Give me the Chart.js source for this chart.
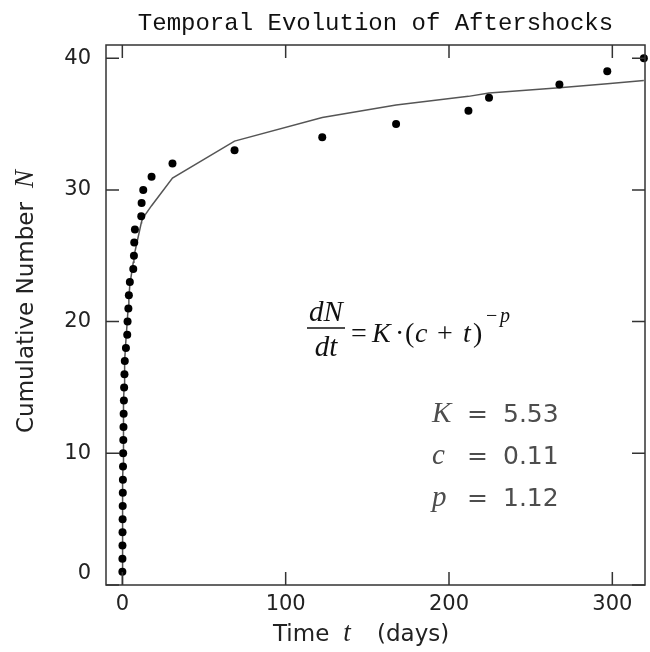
<!DOCTYPE html>
<html>
<head>
<meta charset="utf-8">
<script src="https://cdn.jsdelivr.net/npm/chart.js@4.4.1/dist/chart.umd.min.js"></script>
<style>
    html, body { margin: 0; padding: 0; background: #fff; }
    #wrap { width: 650px; height: 652px; position: relative; }
</style>
</head>
<body>
<div id="wrap"><canvas id="chart"></canvas></div>
<script>
// aftershock times (days) and cumulative count
const timeDays = [0.02, 0.05, 0.08, 0.12, 0.17, 0.22, 0.28, 0.35, 0.42, 0.5,
    0.6, 0.7, 0.8, 0.95, 1.1, 1.3, 1.5, 2.2, 3.0, 3.2,
    3.7, 4.0, 4.6, 6.7, 7.1, 7.3, 7.7, 11.6, 11.8, 12.8,
    17.9, 30.7, 68.7, 122.4, 167.6, 211.9, 224.5, 267.6, 296.9, 319.3];
const cumulativeN = [1, 2, 3, 4, 5, 6, 7, 8, 9, 10,
    11, 12, 13, 14, 15, 16, 17, 18, 19, 20,
    21, 22, 23, 24, 25, 26, 27, 28, 29, 30,
    31, 32, 33, 34, 35, 36, 37, 38, 39, 40];

// Omori fit curve
const fitTimes = [0, 0.02, 0.05, 0.08, 0.12, 0.17, 0.22, 0.28, 0.35, 0.42, 0.5,
    0.6, 0.7, 0.8, 0.95, 1.1, 1.3, 1.5, 2.2, 3.0, 3.2,
    3.7, 4.0, 4.6, 6.7, 7.1, 7.3, 7.7, 11.6, 11.8, 12.8,
    17.9, 30.7, 68.7, 122.4, 167.6, 211.9, 224.5, 267.6, 296.9, 319.3];
const fitN = [0, 1.0, 2.0, 3.0, 4.0, 5.0, 6.0, 7.0, 8.0, 9.0, 10.0,
    11.0, 12.0, 13.0, 14.0, 15.0, 16.0, 17.0, 18.6, 20.0, 20.4,
    21.2, 21.8, 22.8, 24.5, 24.8, 25.0, 25.3, 27.5, 27.6, 27.9,
    28.8, 30.9, 33.7, 35.5, 36.45, 37.1, 37.35, 37.75, 38.05, 38.3];

const xTickValues = [0, 100, 200, 300];
const yTickValues = [0, 10, 20, 30, 40];

const SANS = '"DejaVu Sans", sans-serif';
const SERIF = '"Liberation Serif", serif';
const MONO = '"Liberation Mono", monospace';

const drawPiece = (ctx, text, x, y, font, color) => {
    ctx.font = font;
    ctx.fillStyle = color;
    ctx.fillText(text, x, y);
    return x + ctx.measureText(text).width;
};

const framePlugin = {
    id: 'frameTicks',
    afterDatasetsDraw(chart) {
        const { ctx, chartArea: a, scales } = chart;
        ctx.save();
        ctx.strokeStyle = '#333';
        ctx.lineWidth = 1.5;
        ctx.strokeRect(a.left, a.top, a.right - a.left, a.bottom - a.top);

        const len = 13;
        ctx.beginPath();
        xTickValues.forEach(v => {
            const px = scales.x.getPixelForValue(v);
            ctx.moveTo(px, a.bottom);
            ctx.lineTo(px, a.bottom - len);
            ctx.moveTo(px, a.top);
            ctx.lineTo(px, a.top + len);
        });
        yTickValues.forEach(v => {
            const py = scales.y.getPixelForValue(v);
            ctx.moveTo(a.left, py);
            ctx.lineTo(a.left + len, py);
            ctx.moveTo(a.right, py);
            ctx.lineTo(a.right - len, py);
        });
        ctx.stroke();
        ctx.restore();
    },
    afterDraw(chart) {
        const { ctx, chartArea: a, scales } = chart;
        ctx.save();
        ctx.textBaseline = 'alphabetic';

        // title
        ctx.textAlign = 'center';
        ctx.font = `24px ${MONO}`;
        ctx.fillStyle = '#111';
        ctx.fillText('Temporal Evolution of Aftershocks', (a.left + a.right) / 2, 30);

        // the "0" y label sits a bit above the frame bottom
        ctx.textAlign = 'right';
        ctx.textBaseline = 'middle';
        ctx.font = `21px ${SANS}`;
        ctx.fillStyle = '#222';
        ctx.fillText('0', 91, scales.y.getPixelForValue(0) - 11);

        // x axis title
        ctx.textAlign = 'left';
        ctx.textBaseline = 'alphabetic';
        let x = drawPiece(ctx, 'Time', 273, 641, `23px ${SANS}`, '#222');
        drawPiece(ctx, 't', x + 14, 641, `italic 27px ${SERIF}`, '#222');
        drawPiece(ctx, '(days)', 377, 641, `23px ${SANS}`, '#222');

        // y axis title
        ctx.save();
        ctx.translate(33, 433);
        ctx.rotate(-Math.PI / 2);
        x = drawPiece(ctx, 'Cumulative Number', 0, 0, `23px ${SANS}`, '#222');
        drawPiece(ctx, 'N', x + 14, 0, `italic 27px ${SERIF}`, '#222');
        ctx.restore();

        // Omori law
        const it = `italic 28px ${SERIF}`;
        const rm = `28px ${SERIF}`;
        const ink = '#111';
        ctx.textAlign = 'center';
        drawPiece(ctx, 'dN', 326, 321, `italic 29px ${SERIF}`, ink);
        drawPiece(ctx, 'dt', 326, 356, `italic 29px ${SERIF}`, ink);
        ctx.strokeStyle = ink;
        ctx.lineWidth = 1.3;
        ctx.beginPath();
        ctx.moveTo(307, 328);
        ctx.lineTo(345, 328);
        ctx.stroke();
        ctx.textAlign = 'left';
        const base = 342;
        drawPiece(ctx, '=', 351, base, rm, ink);
        drawPiece(ctx, 'K', 372, base, it, ink);
        drawPiece(ctx, '\u00b7', 395, base, rm, ink);
        drawPiece(ctx, '(', 405, base, rm, ink);
        drawPiece(ctx, 'c', 415, base, it, ink);
        drawPiece(ctx, '+', 437, base, rm, ink);
        drawPiece(ctx, 't', 463, base, it, ink);
        drawPiece(ctx, ')', 473, base, rm, ink);
        drawPiece(ctx, '\u2212', 486, 322, `20px ${SERIF}`, ink);
        drawPiece(ctx, 'p', 500, 322, `italic 20px ${SERIF}`, ink);

        // fit parameters
        const grey = '#4d4d4d';
        const params = [['K', '5.53', 422], ['c', '0.11', 464], ['p', '1.12', 506]];
        params.forEach(([name, val, y]) => {
            drawPiece(ctx, name, 432, y, `italic 29px ${SERIF}`, grey);
            drawPiece(ctx, '=', 467, y, `25px ${SANS}`, grey);
            drawPiece(ctx, val, 503, y, `25px ${SANS}`, grey);
        });

        ctx.restore();
    }
};

const chartEle = document.getElementById('chart');

new Chart(chartEle, {
    type: 'scatter',
    data: {
        datasets: [{
            type: 'line',
            data: fitTimes.map((t, i) => ({ x: t, y: fitN[i] })),
            borderColor: '#555',
            borderWidth: 1.5,
            pointRadius: 0,
            fill: false,
            tension: 0,
            order: 2
        }, {
            data: timeDays.map((t, i) => ({ x: t, y: cumulativeN[i] })),
            backgroundColor: '#000',
            borderWidth: 0,
            pointRadius: 4,
            clip: false,
            order: 1
        }]
    },
    options: {
        responsive: true,
        maintainAspectRatio: false,
        animation: false,
        layout: {
            padding: { top: 45, right: 5, left: 0, bottom: 0 }
        },
        plugins: {
            legend: { display: false },
            tooltip: { enabled: false },
            title: { display: false }
        },
        scales: {
            x: {
                type: 'linear',
                min: -10,
                max: 320,
                border: { display: false },
                grid: { display: false, drawTicks: false },
                afterBuildTicks: (scale) => {
                    scale.ticks = xTickValues.map(v => ({ value: v }));
                },
                afterFit: (scale) => {
                    scale.height = 67;
                },
                ticks: {
                    padding: 7,
                    maxRotation: 0,
                    color: '#222',
                    font: { family: SANS, size: 21 }
                }
            },
            y: {
                type: 'linear',
                min: 0,
                max: 41,
                border: { display: false },
                grid: { display: false, drawTicks: false },
                afterBuildTicks: (scale) => {
                    scale.ticks = yTickValues.map(v => ({ value: v }));
                },
                afterFit: (scale) => {
                    scale.width = 106;
                },
                ticks: {
                    padding: 15,
                    color: '#222',
                    font: { family: SANS, size: 21 },
                    callback: (v) => v === 0 ? '' : v
                }
            }
        }
    },
    plugins: [framePlugin]
});
</script>
</body>
</html>
